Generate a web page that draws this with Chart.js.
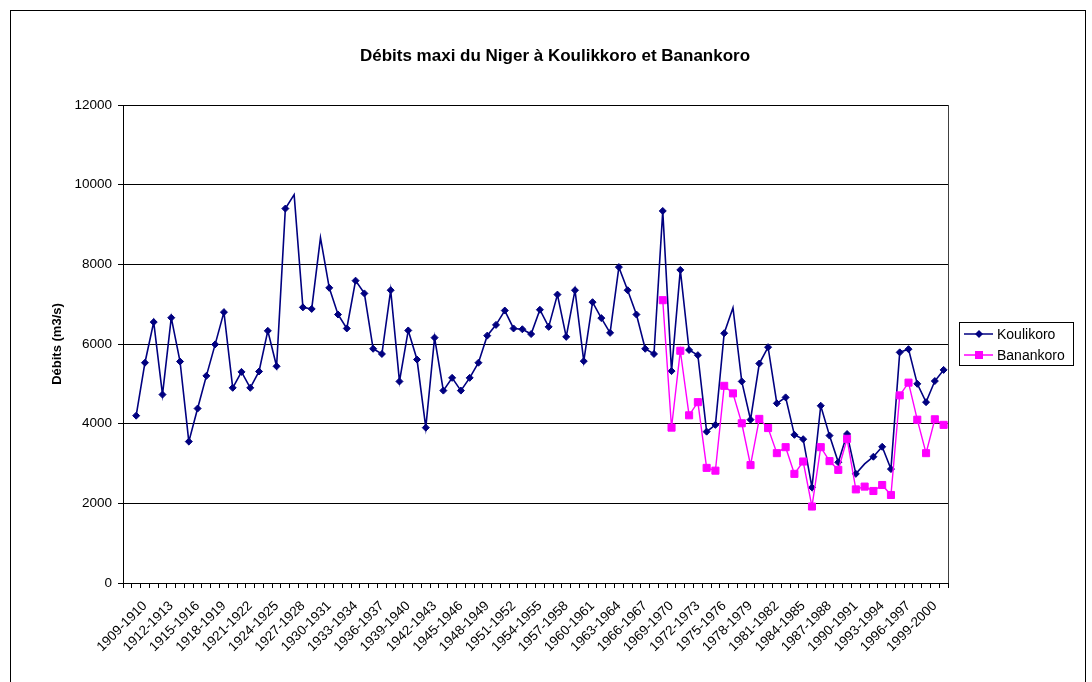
<!DOCTYPE html>
<html>
<head>
<meta charset="utf-8">
<script src="https://cdn.jsdelivr.net/npm/chart.js@4/dist/chart.umd.min.js"></script>
<style>
  html, body { margin: 0; padding: 0; background: #fff; }
</style>
</head>
<body>
<canvas id="debits" width="1092" height="682"></canvas>
<script>
// categories (hydrological years)
const seasons = [
  '1907-1908','1908-1909','1909-1910','1910-1911','1911-1912','1912-1913','1913-1914','1914-1915','1915-1916','1916-1917',
  '1917-1918','1918-1919','1919-1920','1920-1921','1921-1922','1922-1923','1923-1924','1924-1925','1925-1926','1926-1927',
  '1927-1928','1928-1929','1929-1930','1930-1931','1931-1932','1932-1933','1933-1934','1934-1935','1935-1936','1936-1937',
  '1937-1938','1938-1939','1939-1940','1940-1941','1941-1942','1942-1943','1943-1944','1944-1945','1945-1946','1946-1947',
  '1947-1948','1948-1949','1949-1950','1950-1951','1951-1952','1952-1953','1953-1954','1954-1955','1955-1956','1956-1957',
  '1957-1958','1958-1959','1959-1960','1960-1961','1961-1962','1962-1963','1963-1964','1964-1965','1965-1966','1966-1967',
  '1967-1968','1968-1969','1969-1970','1970-1971','1971-1972','1972-1973','1973-1974','1974-1975','1975-1976','1976-1977',
  '1977-1978','1978-1979','1979-1980','1980-1981','1981-1982','1982-1983','1983-1984','1984-1985','1985-1986','1986-1987',
  '1987-1988','1988-1989','1989-1990','1990-1991','1991-1992','1992-1993','1993-1994','1994-1995','1995-1996','1996-1997',
  '1997-1998','1998-1999','1999-2000','2000-2001'
];

// labels actually printed under the axis
const tickLabels = [
  '1909-1910','1912-1913','1915-1916','1918-1919','1921-1922','1924-1925','1927-1928','1930-1931','1933-1934','1936-1937',
  '1939-1940','1942-1943','1945-1946','1948-1949','1951-1952','1954-1955','1957-1958','1960-1961','1963-1964','1966-1967',
  '1969-1970','1972-1973','1975-1976','1978-1979','1981-1982','1984-1985','1987-1988','1990-1991','1993-1994','1996-1997',
  '1999-2000'
];

// max discharge at Koulikoro (m3/s)
const koulikoro = [null,
  4200, 5530, 6550, 4730, 6660, 5560, 3550, 4380, 5200, 5990,
  6800, 4900, 5300, 4900, 5310, 6330, 5440, 9400, 9750, 6920,
  6880, 8670, 7410, 6740, 6390, 7590, 7270, 5880, 5750, 7350,
  5060, 6340, 5610, 3900, 6160, 4830, 5150, 4830, 5150, 5530,
  6210, 6480, 6840, 6390, 6370, 6250, 6860, 6430, 7240, 6180,
  7350, 5570, 7050, 6650, 6280, 7930, 7350, 6740, 5880, 5750,
  9340, 5320, 7860, 5850, 5720, 3800, 3970, 6270, 6910, 5060,
  4100, 5510, 5920, 4510, 4660, 3720, 3610, 2400, 4450, 3700,
  3030, 3740, 2740, 2990, 3170, 3420, 2860, 5790, 5870, 5000,
  4540, 5070, 5350
];

// max discharge at Banankoro (m3/s), series starts later
const banankoroValues = [
  7100, 3900, 5830, 4210, 4540, 2890, 2820, 4950, 4760, 4010,
  2960, 4120, 3890, 3260, 3410, 2740, 3050, 1920, 3410, 3060,
  2840, 3620, 2350, 2420, 2310, 2460, 2210, 4710, 5030, 4100,
  3260, 4110, 3970
];
const banankoro = new Array(seasons.length - banankoroValues.length).fill(null).concat(banankoroValues);

// points drawn without a marker in the original
const noMarker = [19, 22, 69, 84];

const FONT = '"Liberation Sans", Arial, sans-serif';
const NAVY = '#000080';
const MAGENTA = '#FF00FF';

const decor = {
  id: 'decor',
  beforeDraw(chart) {
    const c = chart.ctx;
    c.save();
    c.fillStyle = '#fff';
    c.fillRect(0, 0, chart.width, chart.height);
    c.restore();
  },
  afterDraw(chart) {
    const c = chart.ctx;
    const a = chart.chartArea;
    c.save();
    // outer frame
    c.strokeStyle = '#000';
    c.lineWidth = 1;
    c.strokeRect(10.5, 10.5, 1075, 700);
    // right edge of plot area
    c.beginPath();
    c.strokeStyle = '#404040';
    c.moveTo(Math.round(a.right) + 0.5, a.top);
    c.lineTo(Math.round(a.right) + 0.5, a.bottom);
    c.stroke();
    // title
    c.fillStyle = '#000';
    c.font = 'bold 17px ' + FONT;
    c.textAlign = 'center';
    c.textBaseline = 'alphabetic';
    c.fillText('Débits maxi du Niger à Koulikkoro et Banankoro', 555, 61);
    // legend
    c.strokeStyle = '#000';
    c.strokeRect(959.5, 322.5, 114, 43);
    const rows = [
      { name: 'Koulikoro', color: NAVY, y: 334, diamond: true },
      { name: 'Banankoro', color: MAGENTA, y: 355, diamond: false }
    ];
    c.font = '14px ' + FONT;
    c.textAlign = 'left';
    c.textBaseline = 'middle';
    rows.forEach(r => {
      c.strokeStyle = r.color;
      c.fillStyle = r.color;
      c.lineWidth = 1.5;
      c.beginPath();
      c.moveTo(964, r.y);
      c.lineTo(993, r.y);
      c.stroke();
      c.beginPath();
      if (r.diamond) {
        c.moveTo(979, r.y - 4);
        c.lineTo(983, r.y);
        c.lineTo(979, r.y + 4);
        c.lineTo(975, r.y);
        c.closePath();
        c.fill();
      } else {
        c.fillRect(975, r.y - 4, 8, 8);
      }
      c.fillStyle = '#000';
      c.fillText(r.name, 997, r.y + 1);
    });
    c.restore();
  }
};

new Chart(document.getElementById('debits'), {
  type: 'line',
  data: {
    labels: seasons,
    datasets: [
      {
        label: 'Koulikoro',
        data: koulikoro,
        borderColor: NAVY,
        backgroundColor: NAVY,
        borderWidth: 1.6,
        pointStyle: 'rectRot',
        pointRadius: ctx => noMarker.includes(ctx.dataIndex) ? 0 : 3.5,
        pointBorderWidth: 1,
        tension: 0,
        order: 1
      },
      {
        label: 'Banankoro',
        data: banankoro,
        borderColor: MAGENTA,
        backgroundColor: MAGENTA,
        borderWidth: 1.4,
        pointStyle: 'rect',
        pointRadius: 5,
        pointBorderWidth: 1,
        tension: 0,
        order: 0
      }
    ]
  },
  options: {
    responsive: false,
    animation: false,
    devicePixelRatio: 1,
    layout: { padding: { top: 105, right: 144, bottom: 0, left: 0 } },
    plugins: {
      legend: { display: false },
      title: { display: false },
      tooltip: { enabled: false }
    },
    scales: {
      x: {
        type: 'category',
        offset: true,
        afterFit: s => { s.height = 99; },
        grid: { offset: true, drawOnChartArea: false, drawTicks: true, tickLength: 5, color: '#000' },
        border: { color: '#000', width: 1 },
        ticks: {
          autoSkip: false,
          minRotation: 45,
          maxRotation: 45,
          padding: 10,
          color: '#000',
          font: { family: FONT, size: 13.5 },
          callback: function (v, i) {
            const lab = seasons[i];
            return tickLabels.includes(lab) ? lab : '';
          }
        }
      },
      y: {
        min: 0,
        max: 12000,
        afterFit: s => { s.width = 123; },
        ticks: {
          stepSize: 2000,
          padding: 6,
          color: '#000',
          font: { family: FONT, size: 13.5 },
          callback: v => String(v)
        },
        grid: { color: '#000', lineWidth: 1, tickLength: 5, tickColor: '#000' },
        border: { color: '#000', width: 1 },
        title: {
          display: true,
          text: 'Débits (m3/s)',
          color: '#000',
          font: { family: FONT, size: 13, weight: 'bold' },
          padding: { top: 50, bottom: 0 }
        }
      }
    }
  },
  plugins: [decor]
});
</script>
</body>
</html>
